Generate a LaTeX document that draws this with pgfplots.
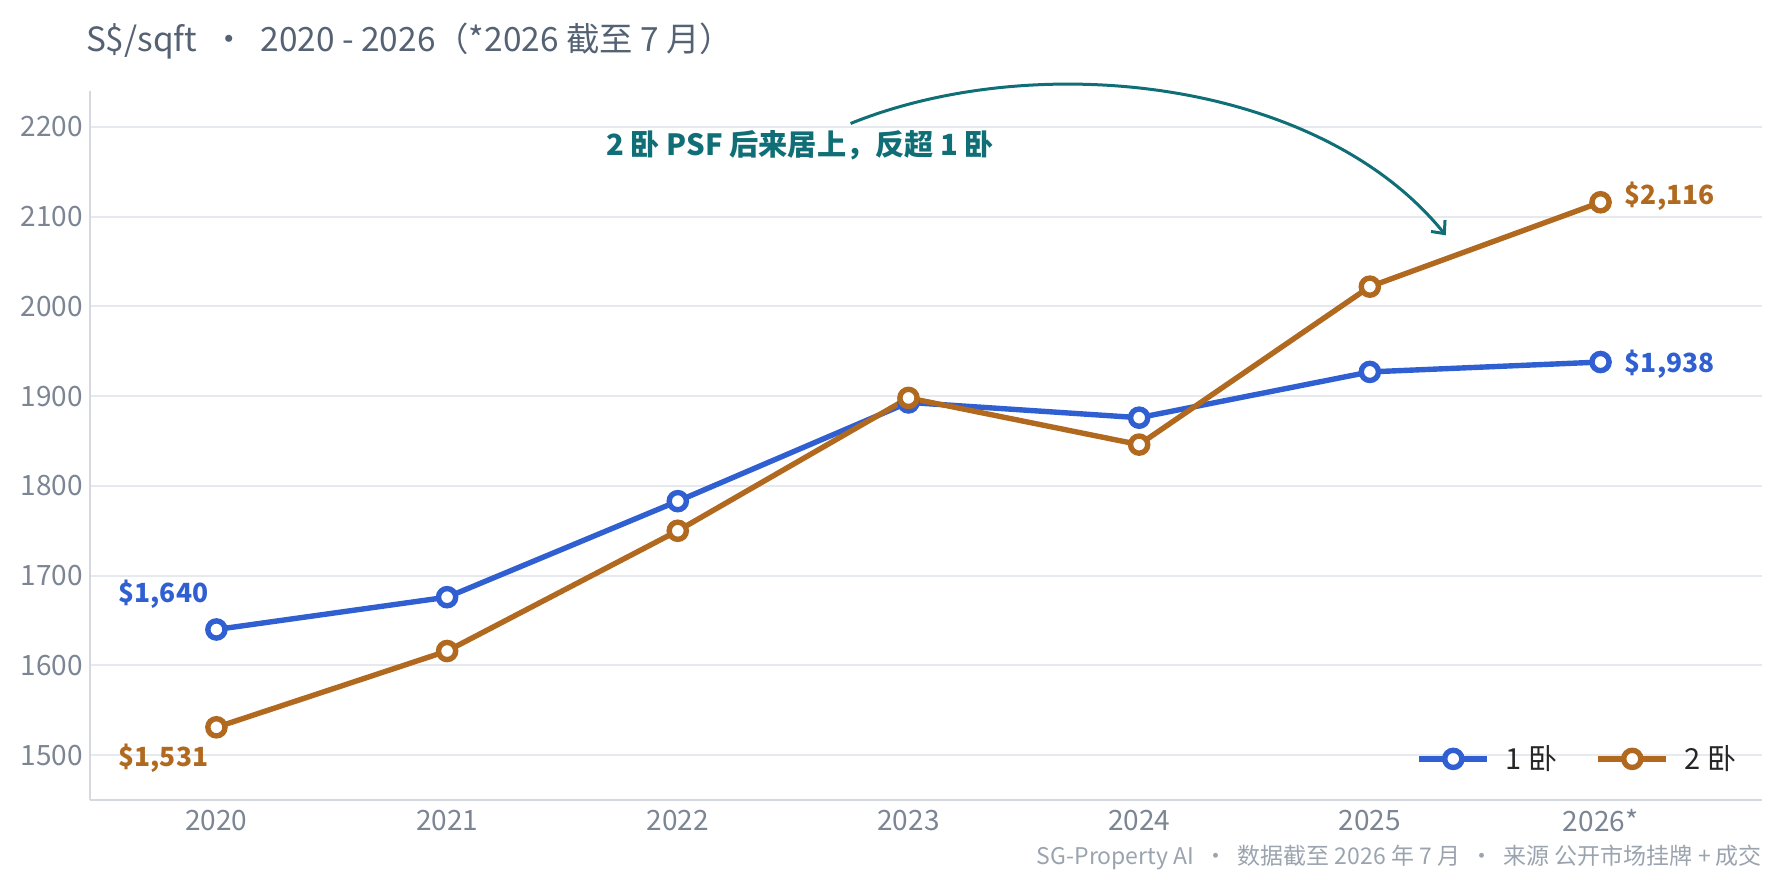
\documentclass[border=0pt]{standalone}
\usepackage{fontspec}
\setmainfont{Noto Sans CJK SC}
\usepackage{pgfplots}
\pgfplotsset{compat=1.18}
\usetikzlibrary{arrows.meta}
\definecolor{oneb}{HTML}{2F5FD1}
\definecolor{twob}{HTML}{B0691F}
\definecolor{annot}{HTML}{0F6E76}
\definecolor{tickgray}{HTML}{7B8594}
\definecolor{titlegray}{HTML}{556274}
\definecolor{footgray}{HTML}{9AA3AE}
\definecolor{gridgray}{HTML}{E6E9ED}
\definecolor{axisgray}{HTML}{D5D9DF}
\begin{document}
\begin{tikzpicture}
\useasboundingbox (0,0) rectangle (892.5pt,442.5pt);
\node[anchor=west, text=titlegray, font=\fontsize{16.7}{20}\selectfont] at (39.5pt,422pt) {S\$/sqft\ \ ·\ \ 2020 - 2026（*2026 截至 7 月）};
\node[anchor=east, text=footgray, font=\fontsize{11.5}{14}\selectfont] at (884.5pt,14pt) {SG-Property AI\ \ ·\ \ 数据截至 2026 年 7 月\ \ ·\ \ 来源 公开市场挂牌 + 成交};
\begin{axis}[
  at={(45pt,42.5pt)}, anchor=south west,
  scale only axis, width=836pt, height=354.5pt,
  xmin=-0.548, xmax=6.70, ymin=1450, ymax=2240,
  xtick={0,1,2,3,4,5,6},
  xticklabels={2020,2021,2022,2023,2024,2025,2026*},
  ytick={1500,1600,1700,1800,1900,2000,2100,2200},
  /pgf/number format/1000 sep={},
  /pgf/number format/assume math mode=true,
  axis x line*=bottom, axis y line*=left,
  axis line style={draw=axisgray, line width=1pt},
  ymajorgrids, grid style={draw=gridgray, line width=1pt},
  major tick length=0pt,
  tick label style={text=tickgray, font=\fontsize{14}{16}\selectfont},
  xticklabel style={anchor=center, yshift=-10.5pt},
  yticklabel style={anchor=east},
  clip=false,
  legend style={draw=none, fill=none, at={(0.991,0.058)}, anchor=east,
    font=\fontsize{14.5}{16}\selectfont, text=black!85,
    /tikz/every odd column/.append style={column sep=6pt},
    /tikz/every even column/.append style={column sep=17pt}},
  legend columns=2,
  legend image code/.code={\draw[mark repeat=2,mark phase=2] plot coordinates {(0pt,0pt)(17pt,0pt)(34pt,0pt)};},
]
\addplot[oneb, line width=2.7pt, mark=*, mark size=4.3pt, mark options={fill=white, draw=oneb, line width=2.7pt}]
  coordinates {(0,1640)(1,1676)(2,1783)(3,1893)(4,1876)(5,1927)(6,1938)};
\addlegendentry{1 卧}
\addplot[twob, line width=2.7pt, mark=*, mark size=4.3pt, mark options={fill=white, draw=twob, line width=2.7pt}]
  coordinates {(0,1531)(1,1616)(2,1750)(3,1898)(4,1846)(5,2022)(6,2116)};
\addlegendentry{2 卧}
\node[anchor=east, text=oneb, font=\bfseries\fontsize{13.2}{16}\selectfont] at (axis cs:-0.005,1679) {\$1,640};
\node[anchor=east, text=twob, font=\bfseries\fontsize{13.2}{16}\selectfont] at (axis cs:-0.005,1496) {\$1,531};
\node[anchor=west, text=twob, font=\bfseries\fontsize{13.2}{16}\selectfont] at (axis cs:6.075,2122.5) {\$2,116};
\node[anchor=west, text=oneb, font=\bfseries\fontsize{13.2}{16}\selectfont] at (axis cs:6.075,1935.7) {\$1,938};
\node[text=annot, font=\bfseries\fontsize{14.6}{18}\selectfont] at (axis cs:2.531,2179.6) {2 卧 PSF 后来居上，反超 1 卧};
\draw[annot, line width=1.5pt, -{Straight Barb[length=5pt,width=9pt]}] (axis cs:2.749,2203.8) to[out=22,in=129,looseness=0.85] (axis cs:5.329,2079.2);
\end{axis}
\end{tikzpicture}
\end{document}
